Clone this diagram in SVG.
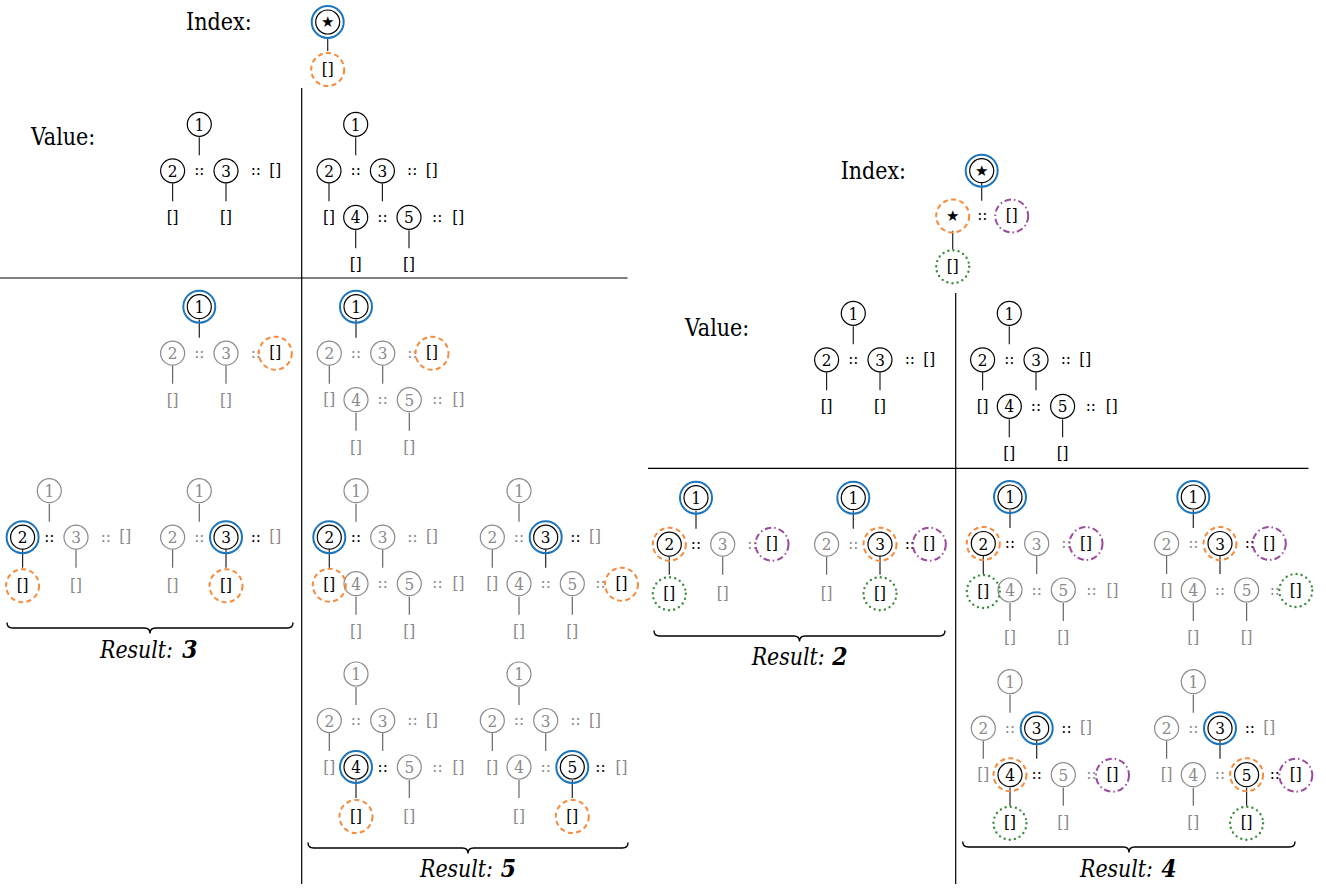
<svg xmlns="http://www.w3.org/2000/svg" width="1326" height="888" viewBox="0 0 1326 888">
<style>
.t{font-family:'DejaVu Serif','Liberation Serif',serif;font-stretch:condensed;font-size:17px;text-anchor:middle;fill:#000}
.g{fill:#8a8a8a}
.c{fill:none;stroke:#000;stroke-width:1.2}
.cg{fill:none;stroke:#8a8a8a;stroke-width:1.2}
.e{stroke:#222;stroke-width:1.2}
.eg{stroke:#666;stroke-width:1.2}
.rb{fill:none;stroke:#1b75bc;stroke-width:2}
.ro{fill:none;stroke:#f58b3c;stroke-width:2;stroke-dasharray:5 3.4}
.rp{fill:none;stroke:#9b4a9f;stroke-width:2;stroke-dasharray:6.5 3 1.5 3}
.rg{fill:none;stroke:#3c8c3c;stroke-width:2.4;stroke-dasharray:0 5.2;stroke-linecap:round}
.lab{font-family:'DejaVu Serif','Liberation Serif',serif;font-stretch:condensed;font-size:24px;fill:#000}
.res{font-family:'DejaVu Serif','Liberation Serif',serif;font-stretch:condensed;font-size:24.5px;font-style:italic;fill:#000}
.resn{font-family:'DejaVu Serif','Liberation Serif',serif;font-stretch:condensed;font-size:24.5px;font-style:italic;font-weight:bold;text-anchor:middle;fill:#000}
.fr{stroke:#000;stroke-width:1.2}
.br{fill:none;stroke:#000;stroke-width:1.4}
.st{font-family:'DejaVu Sans',sans-serif;font-size:15px;text-anchor:middle;fill:#000}
</style>
<rect width="1326" height="888" fill="#fff"/>

<g id="frame">
<line class="fr" x1="301.7" y1="88" x2="301.7" y2="884"/>
<line class="fr" x1="0" y1="278" x2="627.5" y2="278"/>
<line class="fr" x1="648" y1="468.3" x2="1308.5" y2="468.3"/>
<line class="fr" x1="955.7" y1="293" x2="955.7" y2="884"/>
</g>

<g id="labels">
<text class="lab" x="186" y="30" textLength="65.7" lengthAdjust="spacingAndGlyphs">Index:</text>
<text class="lab" x="31" y="145" textLength="64.3" lengthAdjust="spacingAndGlyphs">Value:</text>
<text class="lab" x="840.7" y="179.3" textLength="65.3" lengthAdjust="spacingAndGlyphs">Index:</text>
<text class="lab" x="685" y="336" textLength="64.3" lengthAdjust="spacingAndGlyphs">Value:</text>
</g>

<g id="connectors">
<g transform="translate(327.7,22)"><line class="e" x1="0" y1="16" x2="0" y2="29"/></g>
<g transform="translate(981.7,170.7)"><line class="e" x1="0" y1="12" x2="0" y2="30"/><line class="e" x1="-29" y1="60" x2="-29" y2="78.6"/></g>
<g transform="translate(199.3,124.3)"><line class="e" x1="0" y1="13" x2="0" y2="31"/><line class="e" x1="-26.7" y1="59" x2="-26.7" y2="77"/><line class="e" x1="26.7" y1="59" x2="26.7" y2="77"/></g>
<g transform="translate(355.7,124.3)"><line class="e" x1="0" y1="13" x2="0" y2="31"/><line class="e" x1="-26.7" y1="59" x2="-26.7" y2="77"/><line class="e" x1="26.7" y1="59" x2="26.7" y2="77"/><line class="e" x1="0" y1="106" x2="0" y2="124"/><line class="e" x1="53.3" y1="106" x2="53.3" y2="124"/></g>
<g transform="translate(853.3,313.3)"><line class="e" x1="0" y1="13" x2="0" y2="31"/><line class="e" x1="-26.7" y1="59" x2="-26.7" y2="77"/><line class="e" x1="26.7" y1="59" x2="26.7" y2="77"/></g>
<g transform="translate(1009.3,313.3)"><line class="e" x1="0" y1="13" x2="0" y2="31"/><line class="e" x1="-26.7" y1="59" x2="-26.7" y2="77"/><line class="e" x1="26.7" y1="59" x2="26.7" y2="77"/><line class="e" x1="0" y1="106" x2="0" y2="124"/><line class="e" x1="53.3" y1="106" x2="53.3" y2="124"/></g>
<g transform="translate(199.3,306.7)"><line class="e" x1="0" y1="13" x2="0" y2="31"/><line class="eg" x1="-26.7" y1="59" x2="-26.7" y2="77"/><line class="eg" x1="26.7" y1="59" x2="26.7" y2="77"/></g>
<g transform="translate(49.3,490.7)"><line class="eg" x1="0" y1="13" x2="0" y2="31"/><line class="e" x1="-26.7" y1="59" x2="-26.7" y2="77"/><line class="eg" x1="26.7" y1="59" x2="26.7" y2="77"/></g>
<g transform="translate(199.3,490.7)"><line class="eg" x1="0" y1="13" x2="0" y2="31"/><line class="eg" x1="-26.7" y1="59" x2="-26.7" y2="77"/><line class="e" x1="26.7" y1="59" x2="26.7" y2="77"/></g>
<g transform="translate(356,306.7)"><line class="e" x1="0" y1="13" x2="0" y2="31"/><line class="eg" x1="-26.7" y1="59" x2="-26.7" y2="77"/><line class="eg" x1="26.7" y1="59" x2="26.7" y2="77"/><line class="eg" x1="0" y1="106" x2="0" y2="124"/><line class="eg" x1="53.3" y1="106" x2="53.3" y2="124"/></g>
<g transform="translate(356,490.7)"><line class="eg" x1="0" y1="13" x2="0" y2="31"/><line class="e" x1="-26.7" y1="59" x2="-26.7" y2="77"/><line class="eg" x1="26.7" y1="59" x2="26.7" y2="77"/><line class="eg" x1="0" y1="106" x2="0" y2="124"/><line class="eg" x1="53.3" y1="106" x2="53.3" y2="124"/></g>
<g transform="translate(519,490.7)"><line class="eg" x1="0" y1="13" x2="0" y2="31"/><line class="eg" x1="-26.7" y1="59" x2="-26.7" y2="77"/><line class="e" x1="26.7" y1="59" x2="26.7" y2="77"/><line class="eg" x1="0" y1="106" x2="0" y2="124"/><line class="eg" x1="53.3" y1="106" x2="53.3" y2="124"/></g>
<g transform="translate(356,674)"><line class="eg" x1="0" y1="13" x2="0" y2="31"/><line class="eg" x1="-26.7" y1="59" x2="-26.7" y2="77"/><line class="eg" x1="26.7" y1="59" x2="26.7" y2="77"/><line class="e" x1="0" y1="106" x2="0" y2="124"/><line class="eg" x1="53.3" y1="106" x2="53.3" y2="124"/></g>
<g transform="translate(519,674)"><line class="eg" x1="0" y1="13" x2="0" y2="31"/><line class="eg" x1="-26.7" y1="59" x2="-26.7" y2="77"/><line class="eg" x1="26.7" y1="59" x2="26.7" y2="77"/><line class="eg" x1="0" y1="106" x2="0" y2="124"/><line class="e" x1="53.3" y1="106" x2="53.3" y2="124"/></g>
<g transform="translate(696,497.7)"><line class="e" x1="0" y1="13" x2="0" y2="31"/><line class="e" x1="-26.7" y1="59" x2="-26.7" y2="77"/><line class="eg" x1="26.7" y1="59" x2="26.7" y2="77"/></g>
<g transform="translate(853.3,497.7)"><line class="e" x1="0" y1="13" x2="0" y2="31"/><line class="eg" x1="-26.7" y1="59" x2="-26.7" y2="77"/><line class="e" x1="26.7" y1="59" x2="26.7" y2="77"/></g>
<g transform="translate(1010,497)"><line class="e" x1="0" y1="13" x2="0" y2="31"/><line class="e" x1="-26.7" y1="59" x2="-26.7" y2="77"/><line class="eg" x1="26.7" y1="59" x2="26.7" y2="77"/><line class="eg" x1="0" y1="106" x2="0" y2="124"/><line class="eg" x1="53.3" y1="106" x2="53.3" y2="124"/></g>
<g transform="translate(1193.3,497)"><line class="e" x1="0" y1="13" x2="0" y2="31"/><line class="eg" x1="-26.7" y1="59" x2="-26.7" y2="77"/><line class="e" x1="26.7" y1="59" x2="26.7" y2="77"/><line class="eg" x1="0" y1="106" x2="0" y2="124"/><line class="eg" x1="53.3" y1="106" x2="53.3" y2="124"/></g>
<g transform="translate(1010,681.7)"><line class="eg" x1="0" y1="13" x2="0" y2="31"/><line class="eg" x1="-26.7" y1="59" x2="-26.7" y2="77"/><line class="e" x1="26.7" y1="59" x2="26.7" y2="77"/><line class="e" x1="0" y1="106" x2="0" y2="124"/><line class="eg" x1="53.3" y1="106" x2="53.3" y2="124"/></g>
<g transform="translate(1193.3,681.7)"><line class="eg" x1="0" y1="13" x2="0" y2="31"/><line class="eg" x1="-26.7" y1="59" x2="-26.7" y2="77"/><line class="e" x1="26.7" y1="59" x2="26.7" y2="77"/><line class="eg" x1="0" y1="106" x2="0" y2="124"/><line class="e" x1="53.3" y1="106" x2="53.3" y2="124"/></g>
</g>

<!-- Index 1 -->
<g id="idx1" transform="translate(327.7,22)">
<g id="idx1-star"><circle class="c" r="12"/><text class="st" y="5.3">★</text><circle class="rb" r="16"/></g>
<g id="idx1-nil"><text class="t" y="52.6">[]</text><circle class="ro" cy="47.5" r="16.5"/></g>
</g>

<!-- Index 2 -->
<g id="idx2" transform="translate(981.7,170.7)">
<g id="idx2-star"><circle class="c" r="12"/><text class="st" y="5.3">★</text><circle class="rb" r="16"/></g>
<g id="idx2-star2"><text class="st" x="-29" y="50.6">★</text><circle class="ro" cx="-29" cy="45.3" r="16.5"/></g>
<g id="idx2-k"><text class="t" x="0.6" y="49.8">::</text></g>
<g id="idx2-nil"><text class="t" x="30" y="50.5">[]</text><circle class="rp" cx="30" cy="45.3" r="16.5"/></g>
<g id="idx2-nil2"><text class="t" x="-29" y="101.2">[]</text><circle class="rg" cx="-29" cy="96" r="16.5"/></g>
</g>

<!-- Value short (left) -->
<g id="v1" transform="translate(199.3,124.3)">
<g id="v1-n1"><circle class="c" r="12"/><text class="t" y="6.2">1</text></g>
<g id="v1-n2"><circle class="c" cx="-26.7" cy="46.5" r="12"/><text class="t" x="-26.7" y="52.7">2</text></g>
<g id="v1-k1"><text class="t" y="51">::</text></g>
<g id="v1-n3"><circle class="c" cx="26.7" cy="46.5" r="12"/><text class="t" x="26.7" y="52.7">3</text></g>
<g id="v1-k2"><text class="t" x="56.5" y="51">::</text></g>
<g id="v1-nT"><text class="t" x="76" y="51.7">[]</text></g>
<g id="v1-nil2"><text class="t" x="-26.7" y="99.2">[]</text></g>
<g id="v1-nil3"><text class="t" x="26.7" y="99.2">[]</text></g>
</g>

<!-- Value long (left) -->
<g id="v2" transform="translate(355.7,124.3)">
<g id="v2-n1"><circle class="c" r="12"/><text class="t" y="6.2">1</text></g>
<g id="v2-n2"><circle class="c" cx="-26.7" cy="46.5" r="12"/><text class="t" x="-26.7" y="52.7">2</text></g>
<g id="v2-k1"><text class="t" y="51">::</text></g>
<g id="v2-n3"><circle class="c" cx="26.7" cy="46.5" r="12"/><text class="t" x="26.7" y="52.7">3</text></g>
<g id="v2-k2"><text class="t" x="56.5" y="51">::</text></g>
<g id="v2-nT"><text class="t" x="76" y="51.7">[]</text></g>
<g id="v2-nil2"><text class="t" x="-26.7" y="98.7">[]</text></g>
<g id="v2-n4"><circle class="c" cy="93" r="12"/><text class="t" y="99.2">4</text></g>
<g id="v2-k3"><text class="t" x="26.7" y="97.5">::</text></g>
<g id="v2-n5"><circle class="c" cx="53.3" cy="93" r="12"/><text class="t" x="53.3" y="99.2">5</text></g>
<g id="v2-k4"><text class="t" x="81.5" y="97.5">::</text></g>
<g id="v2-nT2"><text class="t" x="102.5" y="98.7">[]</text></g>
<g id="v2-nil4"><text class="t" y="146.2">[]</text></g>
<g id="v2-nil5"><text class="t" x="53.3" y="146.2">[]</text></g>
</g>

<!-- Value short (right) -->
<g id="v3" transform="translate(853.3,313.3)">
<g id="v3-n1"><circle class="c" r="12"/><text class="t" y="6.2">1</text></g>
<g id="v3-n2"><circle class="c" cx="-26.7" cy="46.5" r="12"/><text class="t" x="-26.7" y="52.7">2</text></g>
<g id="v3-k1"><text class="t" y="51">::</text></g>
<g id="v3-n3"><circle class="c" cx="26.7" cy="46.5" r="12"/><text class="t" x="26.7" y="52.7">3</text></g>
<g id="v3-k2"><text class="t" x="56.5" y="51">::</text></g>
<g id="v3-nT"><text class="t" x="76" y="51.7">[]</text></g>
<g id="v3-nil2"><text class="t" x="-26.7" y="99.2">[]</text></g>
<g id="v3-nil3"><text class="t" x="26.7" y="99.2">[]</text></g>
</g>

<!-- Value long (right) -->
<g id="v4" transform="translate(1009.3,313.3)">
<g id="v4-n1"><circle class="c" r="12"/><text class="t" y="6.2">1</text></g>
<g id="v4-n2"><circle class="c" cx="-26.7" cy="46.5" r="12"/><text class="t" x="-26.7" y="52.7">2</text></g>
<g id="v4-k1"><text class="t" y="51">::</text></g>
<g id="v4-n3"><circle class="c" cx="26.7" cy="46.5" r="12"/><text class="t" x="26.7" y="52.7">3</text></g>
<g id="v4-k2"><text class="t" x="56.5" y="51">::</text></g>
<g id="v4-nT"><text class="t" x="76" y="51.7">[]</text></g>
<g id="v4-nil2"><text class="t" x="-26.7" y="98.7">[]</text></g>
<g id="v4-n4"><circle class="c" cy="93" r="12"/><text class="t" y="99.2">4</text></g>
<g id="v4-k3"><text class="t" x="26.7" y="97.5">::</text></g>
<g id="v4-n5"><circle class="c" cx="53.3" cy="93" r="12"/><text class="t" x="53.3" y="99.2">5</text></g>
<g id="v4-k4"><text class="t" x="81.5" y="97.5">::</text></g>
<g id="v4-nT2"><text class="t" x="102.5" y="98.7">[]</text></g>
<g id="v4-nil4"><text class="t" y="146.2">[]</text></g>
<g id="v4-nil5"><text class="t" x="53.3" y="146.2">[]</text></g>
</g>

<!-- Result 3 trees -->
<g id="r3a" transform="translate(199.3,306.7)">
<g id="r3a-n1"><circle class="c" r="12"/><text class="t" y="6.2">1</text><circle class="rb" r="16"/></g>
<g id="r3a-n2"><circle class="cg" cx="-26.7" cy="46.5" r="12"/><text class="t g" x="-26.7" y="52.7">2</text></g>
<g id="r3a-k1"><text class="t g" y="51">::</text></g>
<g id="r3a-n3"><circle class="cg" cx="26.7" cy="46.5" r="12"/><text class="t g" x="26.7" y="52.7">3</text></g>
<g id="r3a-k2"><text class="t g" x="56.5" y="51">::</text></g>
<g id="r3a-nT"><text class="t" x="76" y="51.7">[]</text><circle class="ro" cx="76" cy="46.5" r="16.5"/></g>
<g id="r3a-nil2"><text class="t g" x="-26.7" y="99.2">[]</text></g>
<g id="r3a-nil3"><text class="t g" x="26.7" y="99.2">[]</text></g>
</g>

<g id="r3b" transform="translate(49.3,490.7)">
<g id="r3b-n1"><circle class="cg" r="12"/><text class="t g" y="6.2">1</text></g>
<g id="r3b-n2"><circle class="c" cx="-26.7" cy="46.5" r="12"/><text class="t" x="-26.7" y="52.7">2</text><circle class="rb" cx="-26.7" cy="46.5" r="16"/></g>
<g id="r3b-k1"><text class="t" y="51">::</text></g>
<g id="r3b-n3"><circle class="cg" cx="26.7" cy="46.5" r="12"/><text class="t g" x="26.7" y="52.7">3</text></g>
<g id="r3b-k2"><text class="t g" x="56.5" y="51">::</text></g>
<g id="r3b-nT"><text class="t g" x="76" y="51.7">[]</text></g>
<g id="r3b-nil2"><text class="t" x="-26.7" y="100.2">[]</text><circle class="ro" cx="-26.7" cy="95" r="16.5"/></g>
<g id="r3b-nil3"><text class="t g" x="26.7" y="100.2">[]</text></g>
</g>

<g id="r3c" transform="translate(199.3,490.7)">
<g id="r3c-n1"><circle class="cg" r="12"/><text class="t g" y="6.2">1</text></g>
<g id="r3c-n2"><circle class="cg" cx="-26.7" cy="46.5" r="12"/><text class="t g" x="-26.7" y="52.7">2</text></g>
<g id="r3c-k1"><text class="t g" y="51">::</text></g>
<g id="r3c-n3"><circle class="c" cx="26.7" cy="46.5" r="12"/><text class="t" x="26.7" y="52.7">3</text><circle class="rb" cx="26.7" cy="46.5" r="16"/></g>
<g id="r3c-k2"><text class="t" x="56.5" y="51">::</text></g>
<g id="r3c-nT"><text class="t g" x="76" y="51.7">[]</text></g>
<g id="r3c-nil2"><text class="t g" x="-26.7" y="100.2">[]</text></g>
<g id="r3c-nil3"><text class="t" x="26.7" y="100.2">[]</text><circle class="ro" cx="26.7" cy="95" r="16.5"/></g>
</g>

<!-- Result 5 trees -->
<g id="r5a" transform="translate(356,306.7)">
<g id="r5a-n1"><circle class="c" r="12"/><text class="t" y="6.2">1</text><circle class="rb" r="16"/></g>
<g id="r5a-n2"><circle class="cg" cx="-26.7" cy="46.5" r="12"/><text class="t g" x="-26.7" y="52.7">2</text></g>
<g id="r5a-k1"><text class="t g" y="51">::</text></g>
<g id="r5a-n3"><circle class="cg" cx="26.7" cy="46.5" r="12"/><text class="t g" x="26.7" y="52.7">3</text></g>
<g id="r5a-k2"><text class="t g" x="56.5" y="51">::</text></g>
<g id="r5a-nT"><text class="t" x="76" y="51.7">[]</text><circle class="ro" cx="76" cy="46.5" r="16.5"/></g>
<g id="r5a-nil2"><text class="t g" x="-26.7" y="98.7">[]</text></g>
<g id="r5a-n4"><circle class="cg" cy="93" r="12"/><text class="t g" y="99.2">4</text></g>
<g id="r5a-k3"><text class="t g" x="26.7" y="97.5">::</text></g>
<g id="r5a-n5"><circle class="cg" cx="53.3" cy="93" r="12"/><text class="t g" x="53.3" y="99.2">5</text></g>
<g id="r5a-k4"><text class="t g" x="81.5" y="97.5">::</text></g>
<g id="r5a-nT2"><text class="t g" x="102.5" y="98.7">[]</text></g>
<g id="r5a-nil4"><text class="t g" y="146.2">[]</text></g>
<g id="r5a-nil5"><text class="t g" x="53.3" y="146.2">[]</text></g>
</g>

<g id="r5b" transform="translate(356,490.7)">
<g id="r5b-n1"><circle class="cg" r="12"/><text class="t g" y="6.2">1</text></g>
<g id="r5b-n2"><circle class="c" cx="-26.7" cy="46.5" r="12"/><text class="t" x="-26.7" y="52.7">2</text><circle class="rb" cx="-26.7" cy="46.5" r="16"/></g>
<g id="r5b-k1"><text class="t" y="51">::</text></g>
<g id="r5b-n3"><circle class="cg" cx="26.7" cy="46.5" r="12"/><text class="t g" x="26.7" y="52.7">3</text></g>
<g id="r5b-k2"><text class="t g" x="56.5" y="51">::</text></g>
<g id="r5b-nT"><text class="t g" x="76" y="51.7">[]</text></g>
<g id="r5b-n4"><circle class="cg" cy="93" r="12"/><text class="t g" y="99.2">4</text></g>
<g id="r5b-k3"><text class="t g" x="26.7" y="97.5">::</text></g>
<g id="r5b-n5"><circle class="cg" cx="53.3" cy="93" r="12"/><text class="t g" x="53.3" y="99.2">5</text></g>
<g id="r5b-k4"><text class="t g" x="81.5" y="97.5">::</text></g>
<g id="r5b-nT2"><text class="t g" x="102.5" y="98.7">[]</text></g>
<g id="r5b-nil4"><text class="t g" y="146.2">[]</text></g>
<g id="r5b-nil5"><text class="t g" x="53.3" y="146.2">[]</text></g>
<g id="r5b-nil2"><text class="t" x="-26.7" y="99.7">[]</text><circle class="ro" cx="-26.7" cy="94.5" r="16.5"/></g>
</g>

<g id="r5c" transform="translate(519,490.7)">
<g id="r5c-n1"><circle class="cg" r="12"/><text class="t g" y="6.2">1</text></g>
<g id="r5c-n2"><circle class="cg" cx="-26.7" cy="46.5" r="12"/><text class="t g" x="-26.7" y="52.7">2</text></g>
<g id="r5c-k1"><text class="t g" y="51">::</text></g>
<g id="r5c-n3"><circle class="c" cx="26.7" cy="46.5" r="12"/><text class="t" x="26.7" y="52.7">3</text><circle class="rb" cx="26.7" cy="46.5" r="16"/></g>
<g id="r5c-k2"><text class="t" x="56.5" y="51">::</text></g>
<g id="r5c-nT"><text class="t g" x="76" y="51.7">[]</text></g>
<g id="r5c-nil2"><text class="t g" x="-26.7" y="98.7">[]</text></g>
<g id="r5c-n4"><circle class="cg" cy="93" r="12"/><text class="t g" y="99.2">4</text></g>
<g id="r5c-k3"><text class="t g" x="26.7" y="97.5">::</text></g>
<g id="r5c-n5"><circle class="cg" cx="53.3" cy="93" r="12"/><text class="t g" x="53.3" y="99.2">5</text></g>
<g id="r5c-k4"><text class="t g" x="81.5" y="97.5">::</text></g>
<g id="r5c-nT2"><text class="t" x="102.5" y="98.7">[]</text><circle class="ro" cx="102.5" cy="93.5" r="16.5"/></g>
<g id="r5c-nil4"><text class="t g" y="146.2">[]</text></g>
<g id="r5c-nil5"><text class="t g" x="53.3" y="146.2">[]</text></g>
</g>

<g id="r5d" transform="translate(356,674)">
<g id="r5d-n1"><circle class="cg" r="12"/><text class="t g" y="6.2">1</text></g>
<g id="r5d-n2"><circle class="cg" cx="-26.7" cy="46.5" r="12"/><text class="t g" x="-26.7" y="52.7">2</text></g>
<g id="r5d-k1"><text class="t g" y="51">::</text></g>
<g id="r5d-n3"><circle class="cg" cx="26.7" cy="46.5" r="12"/><text class="t g" x="26.7" y="52.7">3</text></g>
<g id="r5d-k2"><text class="t g" x="56.5" y="51">::</text></g>
<g id="r5d-nT"><text class="t g" x="76" y="51.7">[]</text></g>
<g id="r5d-nil2"><text class="t g" x="-26.7" y="98.7">[]</text></g>
<g id="r5d-n4"><circle class="c" cy="93" r="12"/><text class="t" y="99.2">4</text><circle class="rb" cy="93" r="16"/></g>
<g id="r5d-k3"><text class="t" x="26.7" y="97.5">::</text></g>
<g id="r5d-n5"><circle class="cg" cx="53.3" cy="93" r="12"/><text class="t g" x="53.3" y="99.2">5</text></g>
<g id="r5d-k4"><text class="t g" x="81.5" y="97.5">::</text></g>
<g id="r5d-nT2"><text class="t g" x="102.5" y="98.7">[]</text></g>
<g id="r5d-nil4"><text class="t" y="147.7">[]</text><circle class="ro" cy="142.5" r="16.5"/></g>
<g id="r5d-nil5"><text class="t g" x="53.3" y="147.7">[]</text></g>
</g>

<g id="r5e" transform="translate(519,674)">
<g id="r5e-n1"><circle class="cg" r="12"/><text class="t g" y="6.2">1</text></g>
<g id="r5e-n2"><circle class="cg" cx="-26.7" cy="46.5" r="12"/><text class="t g" x="-26.7" y="52.7">2</text></g>
<g id="r5e-k1"><text class="t g" y="51">::</text></g>
<g id="r5e-n3"><circle class="cg" cx="26.7" cy="46.5" r="12"/><text class="t g" x="26.7" y="52.7">3</text></g>
<g id="r5e-k2"><text class="t g" x="56.5" y="51">::</text></g>
<g id="r5e-nT"><text class="t g" x="76" y="51.7">[]</text></g>
<g id="r5e-nil2"><text class="t g" x="-26.7" y="98.7">[]</text></g>
<g id="r5e-n4"><circle class="cg" cy="93" r="12"/><text class="t g" y="99.2">4</text></g>
<g id="r5e-k3"><text class="t g" x="26.7" y="97.5">::</text></g>
<g id="r5e-n5"><circle class="c" cx="53.3" cy="93" r="12"/><text class="t" x="53.3" y="99.2">5</text><circle class="rb" cx="53.3" cy="93" r="16"/></g>
<g id="r5e-k4"><text class="t" x="81.5" y="97.5">::</text></g>
<g id="r5e-nT2"><text class="t g" x="102.5" y="98.7">[]</text></g>
<g id="r5e-nil4"><text class="t g" y="147.7">[]</text></g>
<g id="r5e-nil5"><text class="t" x="53.3" y="147.7">[]</text><circle class="ro" cx="53.3" cy="142.5" r="16.5"/></g>
</g>

<!-- Result 2 trees -->
<g id="r2a" transform="translate(696,497.7)">
<g id="r2a-n1"><circle class="c" r="12"/><text class="t" y="6.2">1</text><circle class="rb" r="16"/></g>
<g id="r2a-n2"><circle class="c" cx="-26.7" cy="46.5" r="12"/><text class="t" x="-26.7" y="52.7">2</text><circle class="ro" cx="-26.7" cy="46.5" r="16.5"/></g>
<g id="r2a-k1"><text class="t" y="51">::</text></g>
<g id="r2a-n3"><circle class="cg" cx="26.7" cy="46.5" r="12"/><text class="t g" x="26.7" y="52.7">3</text></g>
<g id="r2a-k2"><text class="t g" x="56.5" y="51">::</text></g>
<g id="r2a-nT"><text class="t" x="76" y="51.7">[]</text><circle class="rp" cx="76" cy="46.5" r="16.5"/></g>
<g id="r2a-nil2"><text class="t" x="-26.7" y="101.2">[]</text><circle class="rg" cx="-26.7" cy="96" r="16.5"/></g>
<g id="r2a-nil3"><text class="t g" x="26.7" y="101.2">[]</text></g>
</g>

<g id="r2b" transform="translate(853.3,497.7)">
<g id="r2b-n1"><circle class="c" r="12"/><text class="t" y="6.2">1</text><circle class="rb" r="16"/></g>
<g id="r2b-n2"><circle class="cg" cx="-26.7" cy="46.5" r="12"/><text class="t g" x="-26.7" y="52.7">2</text></g>
<g id="r2b-k1"><text class="t g" y="51">::</text></g>
<g id="r2b-n3"><circle class="c" cx="26.7" cy="46.5" r="12"/><text class="t" x="26.7" y="52.7">3</text><circle class="ro" cx="26.7" cy="46.5" r="16.5"/></g>
<g id="r2b-k2"><text class="t" x="56.5" y="51">::</text></g>
<g id="r2b-nT"><text class="t" x="76" y="51.7">[]</text><circle class="rp" cx="76" cy="46.5" r="16.5"/></g>
<g id="r2b-nil2"><text class="t g" x="-26.7" y="101.2">[]</text></g>
<g id="r2b-nil3"><text class="t" x="26.7" y="101.2">[]</text><circle class="rg" cx="26.7" cy="96" r="16.5"/></g>
</g>

<!-- Result 4 trees -->
<g id="r4a" transform="translate(1010,497)">
<g id="r4a-n1"><circle class="c" r="12"/><text class="t" y="6.2">1</text><circle class="rb" r="16"/></g>
<g id="r4a-n2"><circle class="c" cx="-26.7" cy="46.5" r="12"/><text class="t" x="-26.7" y="52.7">2</text><circle class="ro" cx="-26.7" cy="46.5" r="16.5"/></g>
<g id="r4a-k1"><text class="t" y="51">::</text></g>
<g id="r4a-n3"><circle class="cg" cx="26.7" cy="46.5" r="12"/><text class="t g" x="26.7" y="52.7">3</text></g>
<g id="r4a-k2"><text class="t g" x="56.5" y="51">::</text></g>
<g id="r4a-nT"><text class="t" x="76" y="51.7">[]</text><circle class="rp" cx="76" cy="46.5" r="16.5"/></g>
<g id="r4a-n4"><circle class="cg" cy="93" r="12"/><text class="t g" y="99.2">4</text></g>
<g id="r4a-k3"><text class="t g" x="26.7" y="97.5">::</text></g>
<g id="r4a-n5"><circle class="cg" cx="53.3" cy="93" r="12"/><text class="t g" x="53.3" y="99.2">5</text></g>
<g id="r4a-k4"><text class="t g" x="81.5" y="97.5">::</text></g>
<g id="r4a-nT2"><text class="t g" x="102.5" y="98.7">[]</text></g>
<g id="r4a-nil4"><text class="t g" y="146.2">[]</text></g>
<g id="r4a-nil5"><text class="t g" x="53.3" y="146.2">[]</text></g>
<g id="r4a-nil2"><text class="t" x="-26.7" y="99.7">[]</text><circle class="rg" cx="-26.7" cy="94.5" r="16.5"/></g>
</g>

<g id="r4b" transform="translate(1193.3,497)">
<g id="r4b-n1"><circle class="c" r="12"/><text class="t" y="6.2">1</text><circle class="rb" r="16"/></g>
<g id="r4b-n2"><circle class="cg" cx="-26.7" cy="46.5" r="12"/><text class="t g" x="-26.7" y="52.7">2</text></g>
<g id="r4b-k1"><text class="t g" y="51">::</text></g>
<g id="r4b-n3"><circle class="c" cx="26.7" cy="46.5" r="12"/><text class="t" x="26.7" y="52.7">3</text><circle class="ro" cx="26.7" cy="46.5" r="16.5"/></g>
<g id="r4b-k2"><text class="t" x="56.5" y="51">::</text></g>
<g id="r4b-nT"><text class="t" x="76" y="51.7">[]</text><circle class="rp" cx="76" cy="46.5" r="16.5"/></g>
<g id="r4b-nil2"><text class="t g" x="-26.7" y="98.7">[]</text></g>
<g id="r4b-n4"><circle class="cg" cy="93" r="12"/><text class="t g" y="99.2">4</text></g>
<g id="r4b-k3"><text class="t g" x="26.7" y="97.5">::</text></g>
<g id="r4b-n5"><circle class="cg" cx="53.3" cy="93" r="12"/><text class="t g" x="53.3" y="99.2">5</text></g>
<g id="r4b-k4"><text class="t g" x="81.5" y="97.5">::</text></g>
<g id="r4b-nT2"><text class="t" x="102.5" y="98.7">[]</text><circle class="rg" cx="102.5" cy="93.5" r="16.5"/></g>
<g id="r4b-nil4"><text class="t g" y="146.2">[]</text></g>
<g id="r4b-nil5"><text class="t g" x="53.3" y="146.2">[]</text></g>
</g>

<g id="r4c" transform="translate(1010,681.7)">
<g id="r4c-n1"><circle class="cg" r="12"/><text class="t g" y="6.2">1</text></g>
<g id="r4c-n2"><circle class="cg" cx="-26.7" cy="46.5" r="12"/><text class="t g" x="-26.7" y="52.7">2</text></g>
<g id="r4c-k1"><text class="t g" y="51">::</text></g>
<g id="r4c-n3"><circle class="c" cx="26.7" cy="46.5" r="12"/><text class="t" x="26.7" y="52.7">3</text><circle class="rb" cx="26.7" cy="46.5" r="16"/></g>
<g id="r4c-k2"><text class="t" x="56.5" y="51">::</text></g>
<g id="r4c-nT"><text class="t g" x="76" y="51.7">[]</text></g>
<g id="r4c-nil2"><text class="t g" x="-26.7" y="98.7">[]</text></g>
<g id="r4c-n4"><circle class="c" cy="93" r="12"/><text class="t" y="99.2">4</text><circle class="ro" cy="93" r="16.5"/></g>
<g id="r4c-k3"><text class="t" x="26.7" y="97.5">::</text></g>
<g id="r4c-n5"><circle class="cg" cx="53.3" cy="93" r="12"/><text class="t g" x="53.3" y="99.2">5</text></g>
<g id="r4c-k4"><text class="t g" x="81.5" y="97.5">::</text></g>
<g id="r4c-nT2"><text class="t" x="102.5" y="98.7">[]</text><circle class="rp" cx="102.5" cy="93.5" r="16.5"/></g>
<g id="r4c-nil4"><text class="t" y="146.7">[]</text><circle class="rg" cy="141.5" r="16.5"/></g>
<g id="r4c-nil5"><text class="t g" x="53.3" y="146.7">[]</text></g>
</g>

<g id="r4d" transform="translate(1193.3,681.7)">
<g id="r4d-n1"><circle class="cg" r="12"/><text class="t g" y="6.2">1</text></g>
<g id="r4d-n2"><circle class="cg" cx="-26.7" cy="46.5" r="12"/><text class="t g" x="-26.7" y="52.7">2</text></g>
<g id="r4d-k1"><text class="t g" y="51">::</text></g>
<g id="r4d-n3"><circle class="c" cx="26.7" cy="46.5" r="12"/><text class="t" x="26.7" y="52.7">3</text><circle class="rb" cx="26.7" cy="46.5" r="16"/></g>
<g id="r4d-k2"><text class="t" x="56.5" y="51">::</text></g>
<g id="r4d-nT"><text class="t g" x="76" y="51.7">[]</text></g>
<g id="r4d-nil2"><text class="t g" x="-26.7" y="98.7">[]</text></g>
<g id="r4d-n4"><circle class="cg" cy="93" r="12"/><text class="t g" y="99.2">4</text></g>
<g id="r4d-k3"><text class="t g" x="26.7" y="97.5">::</text></g>
<g id="r4d-n5"><circle class="c" cx="53.3" cy="93" r="12"/><text class="t" x="53.3" y="99.2">5</text><circle class="ro" cx="53.3" cy="93" r="16.5"/></g>
<g id="r4d-k4"><text class="t" x="81.5" y="97.5">::</text></g>
<g id="r4d-nT2"><text class="t" x="102.5" y="98.7">[]</text><circle class="rp" cx="102.5" cy="93.5" r="16.5"/></g>
<g id="r4d-nil4"><text class="t g" y="146.7">[]</text></g>
<g id="r4d-nil5"><text class="t" x="53.3" y="146.7">[]</text><circle class="rg" cx="53.3" cy="141.5" r="16.5"/></g>
</g>

<!-- Braces and results -->
<g id="result3">
<path class="br" d="M7,622.5 Q7,628 12.5,628 L144.5,628 Q150,628 150,633.5 Q150,628 155.5,628 L287.5,628 Q293,628 293,622.5"/>
<text class="res" x="100" y="658" textLength="73" lengthAdjust="spacingAndGlyphs">Result:</text>
<text class="resn" x="190" y="658">3</text>
</g>
<g id="result5">
<path class="br" d="M308,842.5 Q308,848 313.5,848 L462.5,848 Q468,848 468,853.5 Q468,848 473.5,848 L622.5,848 Q628,848 628,842.5"/>
<text class="res" x="420" y="877" textLength="73" lengthAdjust="spacingAndGlyphs">Result:</text>
<text class="resn" x="508.3" y="877">5</text>
</g>
<g id="result2">
<path class="br" d="M654,630.5 Q654,636 659.5,636 L794,636 Q799.5,636 799.5,641.5 Q799.5,636 805,636 L939.5,636 Q945,636 945,630.5"/>
<text class="res" x="751.7" y="665" textLength="73" lengthAdjust="spacingAndGlyphs">Result:</text>
<text class="resn" x="840" y="665">2</text>
</g>
<g id="result4">
<path class="br" d="M962.7,841.5 Q962.7,847 968.2,847 L1123.5,847 Q1129,847 1129,852.5 Q1129,847 1134.5,847 L1289.5,847 Q1295,847 1295,841.5"/>
<text class="res" x="1080" y="877" textLength="73" lengthAdjust="spacingAndGlyphs">Result:</text>
<text class="resn" x="1169" y="877">4</text>
</g>
</svg>
